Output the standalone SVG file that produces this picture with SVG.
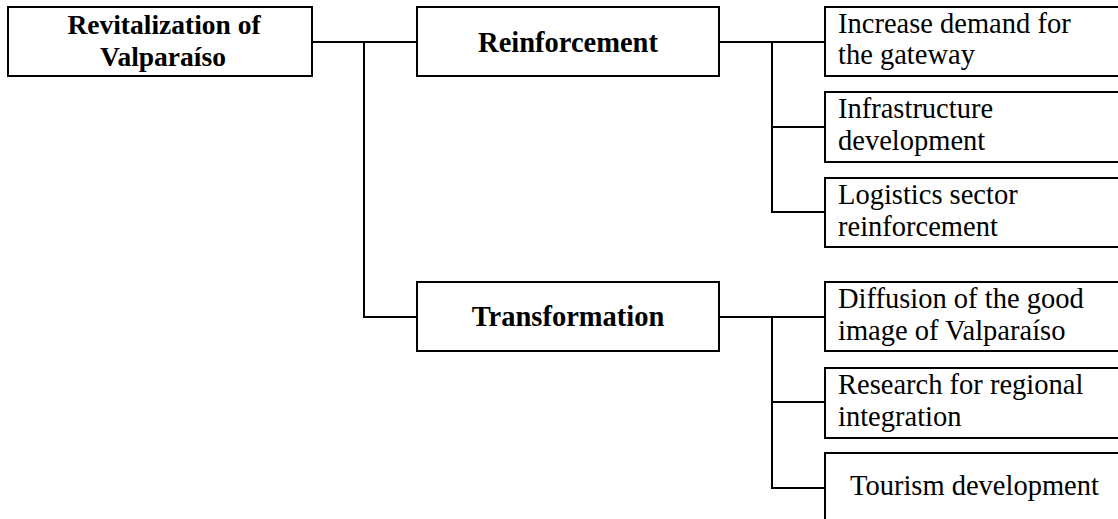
<svg xmlns="http://www.w3.org/2000/svg" width="1118" height="519" viewBox="0 0 1118 519">
  <style>
    .box { fill: #fff; stroke: #000; stroke-width: 2; }
    .wire { fill: none; stroke: #000; stroke-width: 2; }
    text { font-family: "Liberation Serif", "Times New Roman", serif; font-size: 28.5px; fill: #000; }
    .head { font-weight: bold; text-anchor: middle; }
    .root { font-size: 27.5px; }
  </style>
  <rect width="1118" height="519" fill="#fff"/>

  <!-- connectors -->
  <g id="connectors">
    <path class="wire" d="M312 42 H417 M364 42 V317 H417"/>
    <path class="wire" d="M719 42 H825 M772 42 V212 H827 M772 127 H825"/>
    <path class="wire" d="M719 317 H825 M772 317 V488 H827 M772 402 H825"/>
  </g>

  <g id="root">
    <rect class="box" x="8" y="7" width="304" height="69"/>
    <text class="head root" x="164" y="34">Revitalization of</text>
    <text class="head root" x="163" y="66">Valparaíso</text>
  </g>

  <g id="reinforcement">
    <rect class="box" x="417" y="7" width="302" height="69"/>
    <text class="head" x="568" y="52">Reinforcement</text>
  </g>

  <g id="transformation">
    <rect class="box" x="417" y="282" width="302" height="69"/>
    <text class="head" x="568" y="326">Transformation</text>
  </g>

  <g id="demand">
    <rect class="box" x="825" y="7" width="310" height="69"/>
    <text x="838" y="33">Increase demand for</text>
    <text x="838" y="64">the gateway</text>
  </g>

  <g id="infrastructure">
    <rect class="box" x="825" y="92" width="310" height="70"/>
    <text x="838" y="118">Infrastructure</text>
    <text x="838" y="150">development</text>
  </g>

  <g id="logistics">
    <rect class="box" x="825" y="178" width="310" height="69"/>
    <text x="838" y="204">Logistics sector</text>
    <text x="838" y="236">reinforcement</text>
  </g>

  <g id="diffusion">
    <rect class="box" x="825" y="282" width="310" height="69"/>
    <text x="838" y="308">Diffusion of the good</text>
    <text x="838" y="340">image of Valparaíso</text>
  </g>

  <g id="research">
    <rect class="box" x="825" y="368" width="310" height="70"/>
    <text x="838" y="394">Research for regional</text>
    <text x="838" y="426">integration</text>
  </g>

  <g id="tourism">
    <rect class="box" x="825" y="453" width="310" height="80"/>
    <text x="850" y="495">Tourism development</text>
  </g>
</svg>
